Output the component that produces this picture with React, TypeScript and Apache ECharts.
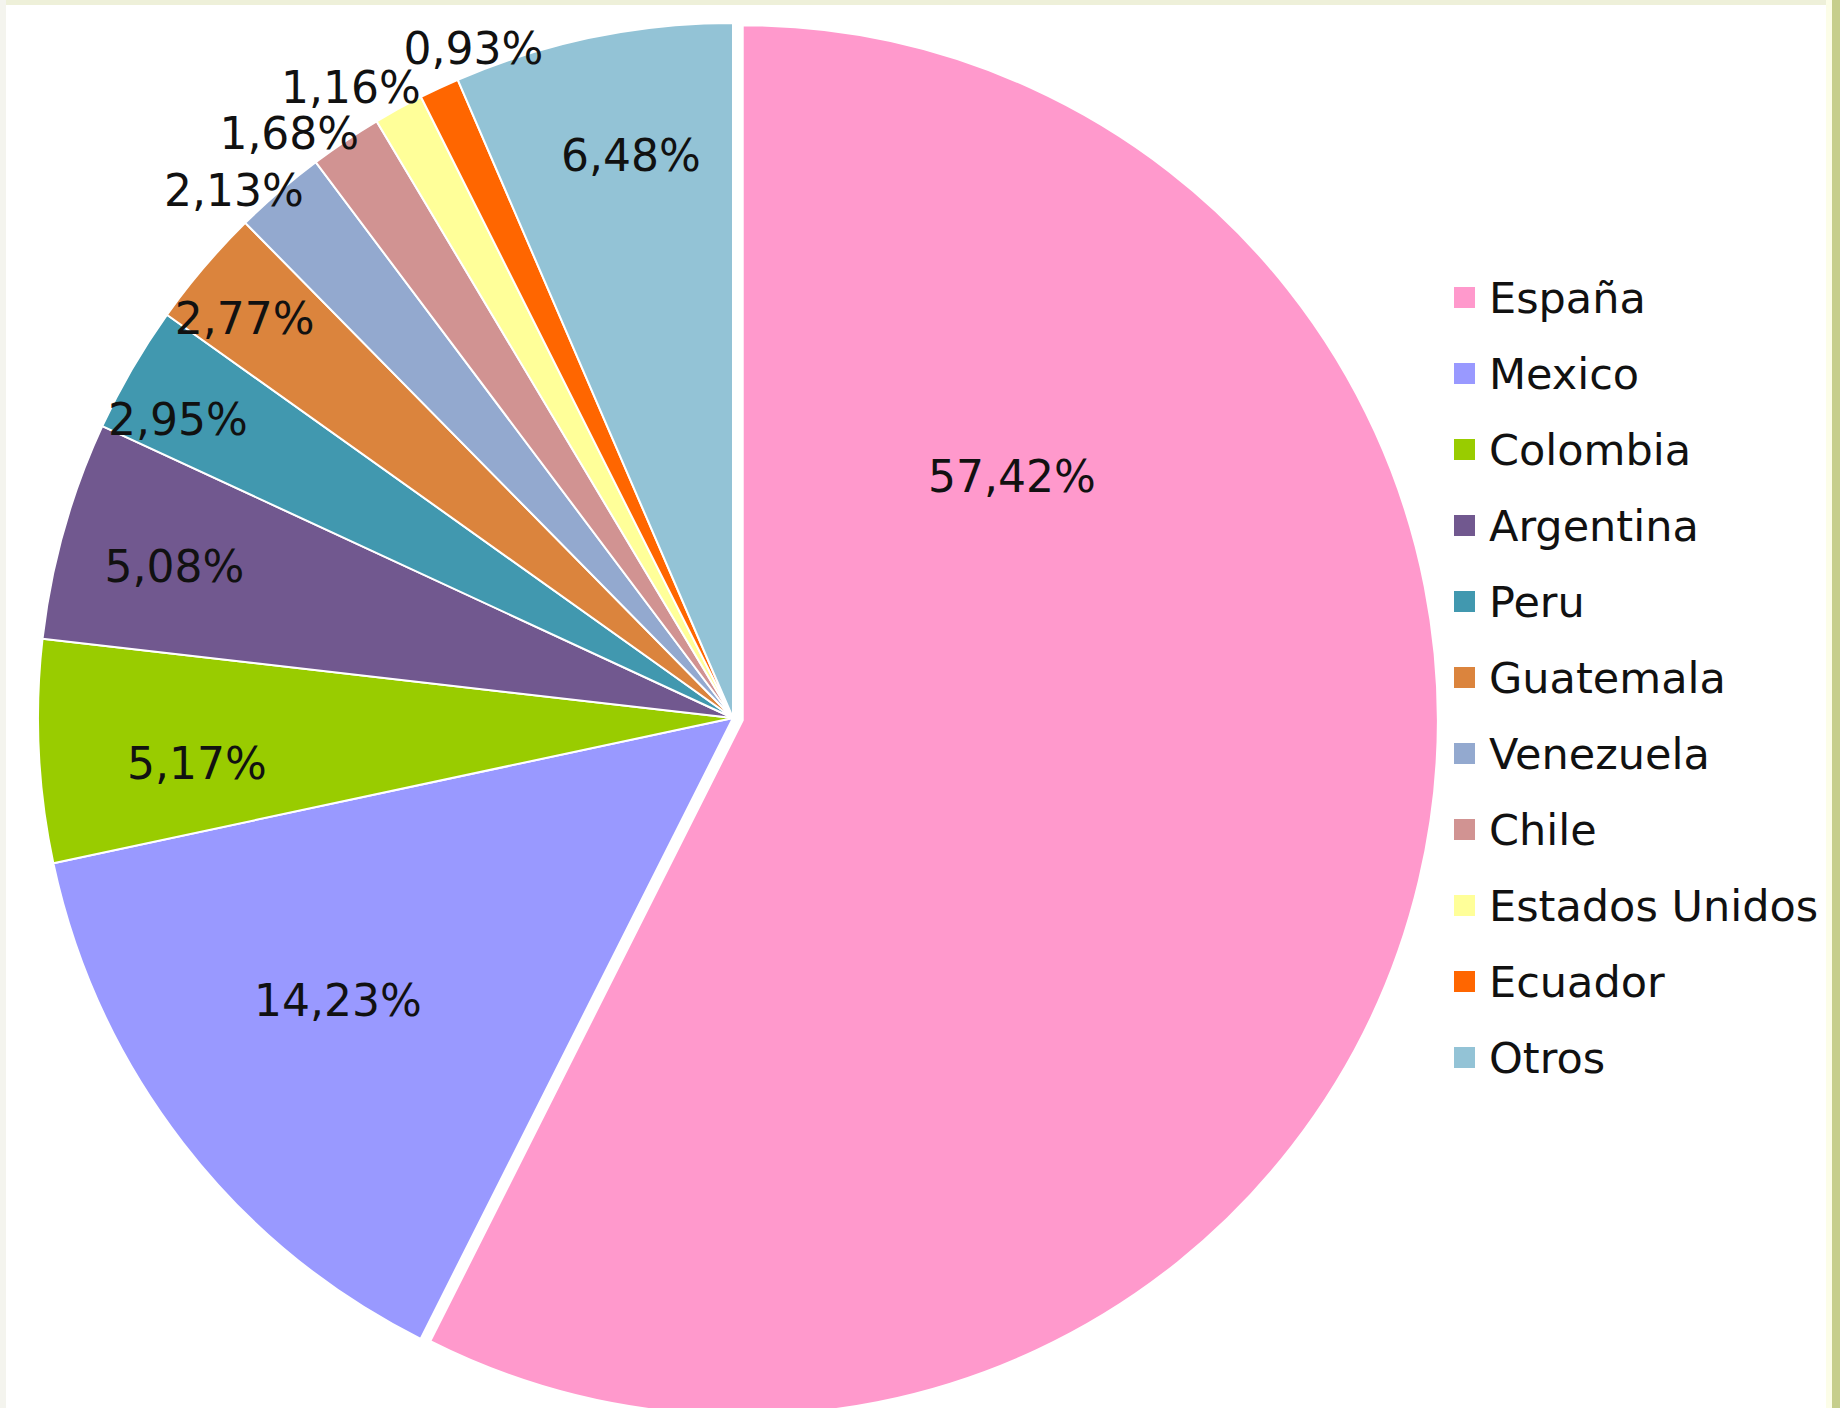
import React, { useEffect, useRef } from "react";
import * as echarts from "echarts";

const countries = [
  "España",
  "Mexico",
  "Colombia",
  "Argentina",
  "Peru",
  "Guatemala",
  "Venezuela",
  "Chile",
  "Estados Unidos",
  "Ecuador",
  "Otros",
];

const shares = [57.42, 14.23, 5.17, 5.08, 2.95, 2.77, 2.13, 1.68, 1.16, 0.93, 6.48];

const sliceColors = [
  "#FF99CC",
  "#9999FF",
  "#99CC00",
  "#71588F",
  "#4198AF",
  "#DB843D",
  "#93A9CF",
  "#D19392",
  "#FFFF99",
  "#FF6600",
  "#93C3D6",
];

// Label placement (Excel "best fit"), as polar: fraction of radius, angle clockwise from 12 o'clock
const labelRadius = [0.531, 0.699, 0.774, 0.833, 0.907, 0.908, 1.045, 1.056, 1.061, 1.033, 0.822];
const labelAngle = [49.1, 234.4, 265.2, 285.2, 298.3, 309.3, 316.6, 322.8, 328.8, 338.8, 349.7];

const CX = 733;
const CY = 718;
const R = 695;
const EXPLODE = 10;

function fmt(v: number): string {
  return v.toFixed(2).replace(".", ",") + "%";
}

export default function App() {
  const ref = useRef<HTMLDivElement>(null);

  useEffect(() => {
    if (!ref.current) return;
    const chart = echarts.init(ref.current, undefined, { renderer: "svg" });

    const total = shares.reduce((a, b) => a + b, 0);
    const restOfFirst = total - shares[0];
    const midA = ((shares[0] / 2) / total) * 2 * Math.PI;
    const exCX = CX + EXPLODE * Math.sin(midA);
    const exCY = CY - EXPLODE * Math.cos(midA);

    const hidden = {
      itemStyle: { color: "rgba(0,0,0,0)", borderWidth: 0 },
      label: { show: false },
    };

    const labelCommon = {
      show: true,
      position: "inside",
      fontFamily: "DejaVu Sans",
      fontSize: 44,
      color: "#111111",
      formatter: (p: any) => fmt(p.value),
    };

    const labelLayout = (p: any) => {
      const i = p.dataIndex;
      const a = (labelAngle[i] * Math.PI) / 180;
      const d = labelRadius[i] * R;
      return {
        x: CX + d * Math.sin(a),
        y: CY - d * Math.cos(a),
        align: "center",
        verticalAlign: "middle",
      };
    };

    const common = {
      type: "pie",
      radius: [0, R],
      startAngle: 90,
      clockwise: true,
      avoidLabelOverlap: false,
      selectedMode: false,
      emphasis: { disabled: true },
      labelLine: { show: false },
      itemStyle: { borderColor: "#FFFFFF", borderWidth: 2 },
      label: labelCommon,
      labelLayout,
    };

    const option: any = {
      animation: false,
      backgroundColor: "#FFFFFF",
      legend: {
        orient: "vertical",
        left: 1447,
        top: 271,
        itemWidth: 23,
        itemHeight: 23,
        itemGap: 33,
        icon: "rect",
        selectedMode: false,
        data: countries,
        textStyle: {
          fontFamily: "DejaVu Sans",
          fontSize: 43,
          color: "#111111",
          padding: [0, 0, 0, 8],
        },
      },
      graphic: [
        { type: "rect", shape: { x: 0, y: 0, width: 1840, height: 5 }, style: { fill: "#EEF0D9" }, silent: true },
        { type: "rect", shape: { x: 0, y: 0, width: 6, height: 1408 }, style: { fill: "#F4F4EE" }, silent: true },
        { type: "rect", shape: { x: 1826, y: 0, width: 6, height: 1408 }, style: { fill: "#FCFDE8" }, silent: true },
        { type: "rect", shape: { x: 1832, y: 0, width: 8, height: 1408 }, style: { fill: "#C6CE8C" }, silent: true },
      ],
      series: [
        {
          ...common,
          name: "rest",
          center: [CX, CY],
          data: countries.map((name, i) =>
            i === 0
              ? { name: "__gap0", value: shares[0], ...hidden }
              : { name, value: shares[i], itemStyle: { color: sliceColors[i] } }
          ),
        },
        {
          ...common,
          name: "exploded",
          center: [exCX, exCY],
          data: [
            { name: countries[0], value: shares[0], itemStyle: { color: sliceColors[0] } },
            { name: "__gap1", value: restOfFirst, ...hidden },
          ],
        },
      ],
    };
    chart.setOption(option);
    return () => chart.dispose();
  }, []);

  return (
    <div
      ref={ref}
      style={{ position: "absolute", left: 0, top: 0, width: 1840, height: 1408 }}
    />
  );
}
